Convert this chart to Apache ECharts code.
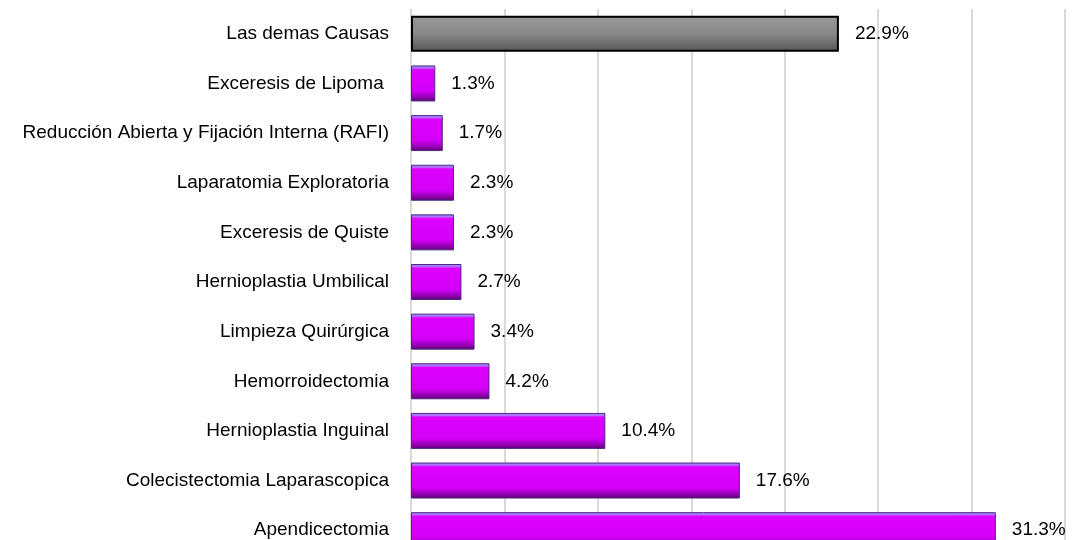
<!DOCTYPE html>
<html>
<head>
<meta charset="utf-8">
<script src="https://cdn.jsdelivr.net/npm/echarts@6/dist/echarts.min.js"></script>
<style>
  html, body { margin: 0; padding: 0; background: #fff; overflow: hidden; }
  #chart { width: 1072px; height: 560px; }
</style>
</head>
<body>
<div id="chart"></div>
<script>
// datos (de abajo hacia arriba)
const categorias = [
  'Apendicectomia',
  'Colecistectomia Laparascopica',
  'Hernioplastia Inguinal',
  'Hemorroidectomia',
  'Limpieza Quirúrgica',
  'Hernioplastia Umbilical',
  'Exceresis de Quiste',
  'Laparatomia Exploratoria',
  'Reducción Abierta y Fijación Interna (RAFI)',
  'Exceresis de Lipoma ',
  'Las demas Causas'
];
const porcentajes = [31.3, 17.6, 10.4, 4.2, 3.4, 2.7, 2.3, 2.3, 1.7, 1.3, 22.9];
const otrasCausas = 'Las demas Causas';

const magenta = new echarts.graphic.LinearGradient(0, 0, 0, 1, [
  { offset: 0, color: '#9a8cff' },
  { offset: 0.07, color: '#b070ff' },
  { offset: 0.12, color: '#dd00ff' },
  { offset: 0.7, color: '#d400f8' },
  { offset: 0.85, color: '#a000c0' },
  { offset: 1, color: '#5a0070' }
]);
const gris = new echarts.graphic.LinearGradient(0, 0, 0, 1, [
  { offset: 0, color: '#9a9a9a' },
  { offset: 0.5, color: '#878787' },
  { offset: 1, color: '#555555' }
]);

const chart = echarts.init(document.getElementById('chart'));

const data = porcentajes.map((v, i) => {
  if (categorias[i] === otrasCausas) {
    return { value: v, itemStyle: { color: gris, borderColor: '#000', borderWidth: 2 } };
  }
  return { value: v, itemStyle: { color: magenta, borderColor: '#4a2a80', borderWidth: 1 } };
});

const fuente = 'Liberation Sans, Arial, sans-serif';

chart.setOption({
  animation: false,
  grid: { left: 411, top: 9, width: 654, height: 546, containLabel: false },
  xAxis: {
    type: 'value',
    min: 0,
    max: 35,
    interval: 5,
    axisLabel: { show: false },
    axisLine: { show: false },
    axisTick: { show: false },
    splitLine: { show: true, lineStyle: { color: '#d9d9d9', width: 2 } }
  },
  yAxis: {
    type: 'category',
    data: categorias,
    axisLine: { show: false },
    axisTick: { show: false },
    axisLabel: { margin: 22, color: '#000', fontFamily: fuente, fontSize: 19 }
  },
  series: [{
    type: 'bar',
    data,
    barWidth: 36,
    label: {
      show: true,
      position: 'right',
      distance: 16,
      color: '#000',
      fontFamily: fuente,
      fontSize: 19,
      formatter: p => p.value.toFixed(1) + '%'
    }
  }]
});
</script>
</body>
</html>
